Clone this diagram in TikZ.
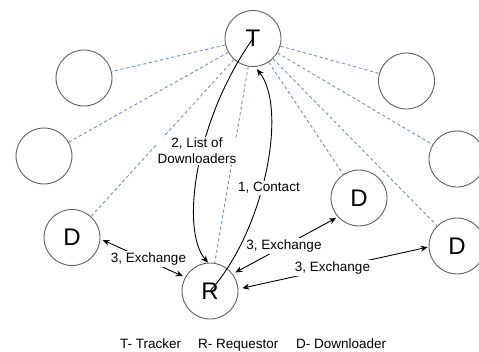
\documentclass[tikz,border=0pt]{standalone}
\usepackage{fontspec}
\setmainfont{Liberation Sans}
\usetikzlibrary{arrows.meta}
\definecolor{peerline}{RGB}{108,146,214}
\definecolor{ringgray}{RGB}{96,96,96}
\tikzset{
  peer/.style={circle, draw=ringgray, fill=white, line width=0.9pt,
    minimum size=56pt, inner sep=0pt, font=\fontsize{24}{28}\selectfont},
  link/.style={draw=peerline, dashed, dash pattern=on 3.2pt off 2.6pt, line width=0.9pt},
  msg/.style={draw=black, line width=0.9pt},
  tip/.style={-{Stealth[length=7pt,width=6pt]}},
  twotip/.style={{Stealth[length=7pt,width=6pt]}-{Stealth[length=7pt,width=6pt]}},
  lbl/.style={fill=white, inner sep=1.5pt, font=\fontsize{13.5}{16}\selectfont, align=center},
  legend/.style={inner sep=0pt, anchor=base west, font=\fontsize{13.5}{16}\selectfont}
}
\begin{document}
\begin{tikzpicture}[x=1pt, y=-1pt]
\useasboundingbox (0,0) rectangle (479,351);

% peers
\node[peer] (T)  at (253,38.5) {T};
\node[peer] (P1) at (84,78) {};
\node[peer] (P2) at (44,156) {};
\node[peer] (Dl) at (72,237.5) {D};
\node[peer] (R)  at (210,291) {R};
\node[peer] (Dm) at (359,198) {D};
\node[peer] (Dr) at (457,246) {D};
\node[peer] (P3) at (406.5,81) {};
\node[peer] (P4) at (457,159) {};

% tracker links
\foreach \p in {P1,P2,Dl,R,Dm,Dr,P3,P4}
  \draw[link] (T) -- (\p);

% tracker messages
\draw[msg, tip] (T.center) .. controls (195,120) and (180,230) .. (R.94);
\draw[msg, tip, shorten >=3pt] (R.center) .. controls (265,230) and (288,108) .. (T.-86);

% peer exchanges
\draw[msg, twotip, shorten >=2.5pt, shorten <=2.5pt] (Dl.357) -- (R.151);
\draw[msg, twotip, shorten >=2pt, shorten <=3pt] (R.37) -- (Dm.222);
\draw[msg, twotip, shorten >=1pt, shorten <=4pt] (R.4) -- (Dr.182);

% labels
\node[lbl] (l2) at (197,151) {2, List of\\Downloaders};
\node[lbl] (l1) at (269,188) {1, Contact};
\node[lbl] (e1) at (148.5,259) {3, Exchange};
\node[lbl] (e2) at (284,246) {3, Exchange};
\node[lbl] (e3) at (332.5,268) {3, Exchange};

% legend
\node[legend] (kT) at (120,348) {T- Tracker};
\node[legend] (kR) at (198,348) {R- Requestor};
\node[legend] (kD) at (296,348) {D- Downloader};
\end{tikzpicture}
\end{document}
